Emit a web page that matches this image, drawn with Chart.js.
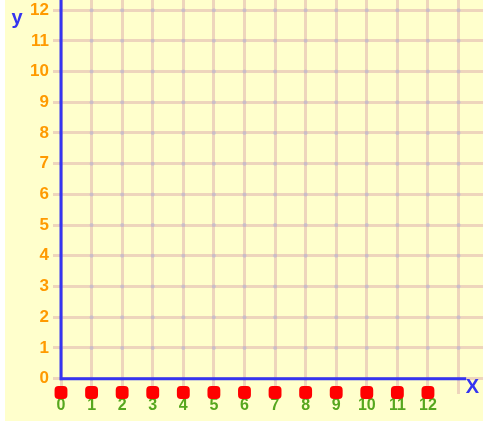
<!DOCTYPE html>
<html>
<head>
<meta charset="utf-8">
<script src="https://cdn.jsdelivr.net/npm/chart.js@4.4.1/dist/chart.umd.min.js"></script>
<style>
  html, body { margin: 0; padding: 0; background: #ffffff; }
  canvas { display: block; }
</style>
</head>
<body>
<canvas id="grid" width="483" height="426"></canvas>
<script>
// points along the bottom of the grid, one per whole x value
const xValues = [0, 1, 2, 3, 4, 5, 6, 7, 8, 9, 10, 11, 12];
const yValues = [-0.45, -0.45, -0.45, -0.45, -0.45, -0.45, -0.45, -0.45, -0.45, -0.45, -0.45, -0.45, -0.45];

// grid lines and their labels
const xTicks = [0, 1, 2, 3, 4, 5, 6, 7, 8, 9, 10, 11, 12, 13];
const xTickLabels = ['0', '1', '2', '3', '4', '5', '6', '7', '8', '9', '10', '11', '12'];
const yTicks = [0, 1, 2, 3, 4, 5, 6, 7, 8, 9, 10, 11, 12];
const yTickLabels = ['0', '1', '2', '3', '4', '5', '6', '7', '8', '9', '10', '11', '12'];

const PAPER = '#ffffcc';
const GRID = 'rgba(222, 172, 172, 0.5)';
const KNOT = 'rgba(180, 186, 215, 0.55)';
const AXIS = '#3535f0';

// yellow paper, grid knots, blue axes and the x / y letters
const paperAxes = {
  id: 'paperAxes',
  beforeDraw(chart) {
    const ctx = chart.ctx;
    ctx.save();
    ctx.fillStyle = PAPER;
    ctx.fillRect(5, 0, chart.width - 5, chart.height - 5);
    ctx.restore();
  },
  beforeDatasetsDraw(chart) {
    const { ctx, chartArea, scales } = chart;
    const x0 = scales.x.getPixelForValue(0);
    const y0 = scales.y.getPixelForValue(0);
    const xEnd = scales.x.getPixelForValue(13.25);
    ctx.save();

    ctx.fillStyle = KNOT;
    xTicks.forEach(xv => {
      yTicks.forEach(yv => {
        ctx.beginPath();
        ctx.arc(scales.x.getPixelForValue(xv), scales.y.getPixelForValue(yv), 2, 0, Math.PI * 2);
        ctx.fill();
      });
    });

    ctx.strokeStyle = AXIS;
    ctx.lineWidth = 3;
    ctx.beginPath();
    ctx.moveTo(x0, chartArea.top);
    ctx.lineTo(x0, y0);
    ctx.lineTo(xEnd, y0);
    ctx.stroke();

    ctx.fillStyle = AXIS;
    ctx.font = 'bold 20px "Liberation Sans", Arial, sans-serif';
    ctx.textAlign = 'center';
    ctx.textBaseline = 'alphabetic';
    ctx.fillText('y', x0 - 44, 24);
    ctx.textBaseline = 'middle';
    ctx.fillText('X', scales.x.getPixelForValue(13.45), y0 + 9);
    ctx.restore();
  }
};

const points = xValues.map((x, i) => ({ x: x, y: yValues[i] }));

new Chart(document.getElementById('grid'), {
  type: 'scatter',
  data: {
    datasets: [{
      data: points,
      pointStyle: 'rectRounded',
      pointRadius: 7.5,
      pointHoverRadius: 7.5,
      backgroundColor: '#ff0000',
      borderWidth: 0,
      clip: false
    }]
  },
  options: {
    responsive: false,
    devicePixelRatio: 1,
    animation: false,
    layout: { padding: 0, autoPadding: false },
    plugins: {
      legend: { display: false },
      tooltip: { enabled: false }
    },
    scales: {
      x: {
        type: 'linear',
        min: 0,
        max: 13.8,
        afterBuildTicks: s => { s.ticks = xTicks.map(v => ({ value: v })); },
        afterFit: s => { s.height = 32; s.paddingLeft = 0; s.paddingRight = 0; },
        border: { display: false },
        grid: { color: GRID, lineWidth: 3, drawTicks: false },
        ticks: {
          color: '#56a71e',
          font: { family: '"Liberation Sans", Arial, sans-serif', size: 16, weight: 'bold' },
          padding: 2,
          maxRotation: 0,
          autoSkip: false,
          callback: (v, i) => xTickLabels[i] || ''
        }
      },
      y: {
        min: -0.5,
        max: 12.33,
        afterBuildTicks: s => { s.ticks = yTicks.map(v => ({ value: v })); },
        afterFit: s => { s.width = 61; s.paddingTop = 0; s.paddingBottom = 0; },
        border: { display: false },
        grid: { color: GRID, lineWidth: 3, tickLength: 8 },
        ticks: {
          color: '#ff9a00',
          font: { family: '"Liberation Sans", Arial, sans-serif', size: 17, weight: 'bold' },
          padding: 4,
          autoSkip: false,
          callback: (v, i) => yTickLabels[i] || ''
        }
      }
    }
  },
  plugins: [paperAxes]
});
</script>
</body>
</html>
